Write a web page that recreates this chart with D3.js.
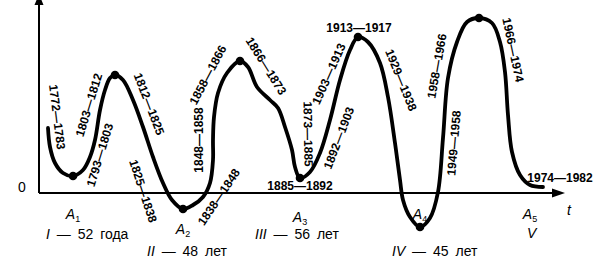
<!DOCTYPE html>
<html>
<head>
<meta charset="utf-8">
<script src="https://cdn.jsdelivr.net/npm/d3@7"></script>
<style>
  body { margin: 0; background: #fff; }
  text { font-family: 'Liberation Sans', Arial, sans-serif; fill: #000; }
</style>
</head>
<body>
<svg id="chart" width="604" height="260"></svg>
<script>
// long wave: time (arbitrary units) and level (0 = axis)
const curveT = [9, 11, 16, 24, 34, 44, 51, 56, 61, 66, 71, 76, 84, 94, 104, 114, 124, 133, 144,
  154, 164, 171, 174, 174, 175, 179, 188, 201, 209, 218, 231, 239, 246, 253, 256, 261,
  271, 281, 291, 301, 311, 319, 329, 341, 349, 356, 361, 364, 371, 381,
  391, 399, 404, 409, 418, 428, 440, 453, 461, 466, 469, 473, 481, 491, 504];
const curveLevel = [65, 46, 30, 20, 17, 23, 36, 53, 83, 103, 115, 118, 113, 93, 66, 36, 10, -7, -16,
  -12, -4, 10, 33, 53, 76, 100, 120, 132, 126, 106, 93, 85, 66, 43, 26, 15,
  21, 40, 73, 113, 143, 156, 151, 130, 96, 50, 13, -7, -24, -34,
  -25, 1, 55, 115, 151, 171, 175, 170, 151, 121, 78, 41, 18, 8, 6];

// turning points (marked with dots)
const turnT = [34, 76, 144, 201, 261, 319, 381, 440];

// period labels along the curve
const periods = ['1772—1783', '1793—1803', '1803—1812', '1812—1825', '1825—1838', '1838—1848',
  '1848—1858', '1858—1866', '1866—1873', '1873—1885', '1885—1892', '1892—1903', '1903—1913',
  '1913—1917', '1929—1938', '1949—1958', '1958—1966', '1966—1974', '1974—1982'];

// troughs A1..A5 and wave lengths
const troughT = [34, 144, 261, 381, 491];
const troughSub = ['1', '2', '3', '4', '5'];
const waveNum = ['I', 'II', 'III', 'IV', 'V'];
const waveLen = ['52 года', '48 лет', '56 лет', '45 лет', ''];

// layout of the period labels: [t, level, angle]
const periodPos = [[18, 76, 83], [61, 38, -73], [50, 88, -73], [110, 89, 69], [104, 2, 72],
  [180, -4, -56], [160, 53, -90], [169, 118, -62], [227, 127, 58], [269, 59, 89], [261, 7, 0],
  [300, 55, -69], [290, 119, -66], [320, 165, 0], [362, 113, 68], [415, 50, -85],
  [398, 127, -80], [474, 143, 78], [521, 15, 0]];
const troughLabelLevel = [-26, -41, -29, -26, -26];
const waveX = [46, 147, 255, 392, 527];
const waveY = [239, 256, 239, 256, 238];

const svg = d3.select('#chart');
const x = d3.scaleLinear().domain([0, 526]).range([39, 565]);
const y = d3.scaleLinear().domain([0, 176]).range([193, 17]);

/// axes with arrows
svg.append('line')
  .attr('x1', x(0)).attr('y1', y(0)).attr('x2', x(0)).attr('y2', 2)
  .attr('stroke', '#000').attr('stroke-width', 2);
svg.append('line')
  .attr('x1', x(0)).attr('y1', y(0)).attr('x2', x(515)).attr('y2', y(0))
  .attr('stroke', '#000').attr('stroke-width', 2);
svg.append('path')
  .attr('d', `M${x(0)},-6 L${x(0) - 4.5},5 L${x(0) + 4.5},5 Z`);
svg.append('path')
  .attr('d', `M${x(526)},${y(0)} L${x(513)},${y(0) - 4.5} L${x(513)},${y(0) + 4.5} Z`);

svg.append('text')
  .attr('x', 22).attr('y', y(0) - 1)
  .attr('text-anchor', 'middle')
  .style('font-size', '14px')
  .text('0');

svg.append('text')
  .attr('x', x(530)).attr('y', y(-22))
  .attr('text-anchor', 'middle')
  .style('font-size', '14px').style('font-style', 'italic')
  .text('t');

/// the wave
const points = curveT.map((t, i) => [t, curveLevel[i]]);
const line = d3.line()
  .x((d) => x(d[0]))
  .y((d) => y(d[1]))
  .curve(d3.curveCatmullRom.alpha(0.5));

svg.append('path')
  .datum(points)
  .attr('d', line)
  .attr('fill', 'none')
  .attr('stroke', '#000')
  .attr('stroke-width', 3.8)
  .attr('stroke-linecap', 'round');

svg.selectAll('circle.turn')
  .data(turnT)
  .enter().append('circle')
  .attr('class', 'turn')
  .attr('cx', (d) => x(d))
  .attr('cy', (d) => y(curveLevel[curveT.indexOf(d)]))
  .attr('r', 4.3);

/// period labels
svg.selectAll('text.period')
  .data(periods)
  .enter().append('text')
  .attr('class', 'period')
  .attr('text-anchor', 'middle')
  .attr('dominant-baseline', 'central')
  .attr('transform', (_, i) => {
    const p = periodPos[i];
    return `translate(${x(p[0])},${y(p[1])}) rotate(${p[2]})`;
  })
  .style('font-size', '12px')
  .style('font-weight', 'bold')
  .text((d) => d);

/// trough names
const troughs = svg.selectAll('text.trough')
  .data(troughT)
  .enter().append('text')
  .attr('class', 'trough')
  .attr('x', (d) => x(d))
  .attr('y', (_, i) => y(troughLabelLevel[i]))
  .attr('text-anchor', 'middle')
  .style('font-size', '14px');
troughs.append('tspan')
  .style('font-style', 'italic')
  .text('A');
troughs.append('tspan')
  .attr('dy', 3)
  .style('font-size', '9px')
  .text((_, i) => troughSub[i]);

/// wave lengths
const waves = svg.selectAll('text.wave')
  .data(waveNum)
  .enter().append('text')
  .attr('class', 'wave')
  .attr('x', (_, i) => waveX[i])
  .attr('y', (_, i) => waveY[i])
  .style('font-size', '14px')
  .style('word-spacing', '3px');
waves.append('tspan')
  .style('font-style', 'italic')
  .text((d) => d);
waves.append('tspan')
  .text((_, i) => (waveLen[i] ? ` — ${waveLen[i]}` : ''));
</script>
</body>
</html>
